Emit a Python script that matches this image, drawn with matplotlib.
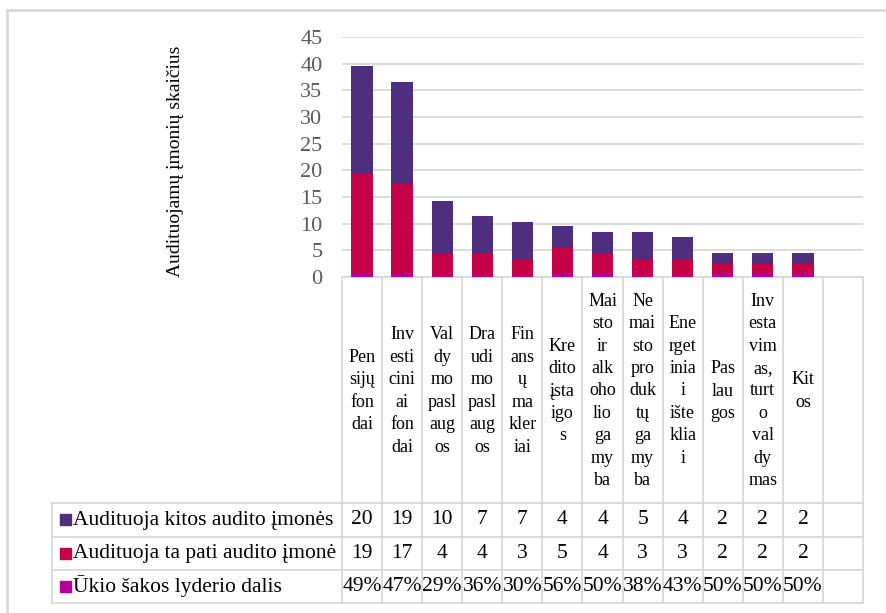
import numpy as np
import matplotlib
matplotlib.use('Agg')
import matplotlib.pyplot as plt
from matplotlib import transforms
from matplotlib.lines import Line2D
from matplotlib.patches import Rectangle

plt.rcParams['font.family'] = ['Liberation Serif', 'DejaVu Serif']

categories = [
    "Pen\nsijų\nfon\ndai",
    "Inv\nesti\ncini\nai\nfon\ndai",
    "Val\ndy\nmo\npasl\naug\nos",
    "Dra\nudi\nmo\npasl\naug\nos",
    "Fin\nans\nų\nma\nkler\niai",
    "Kre\ndito\nįsta\nigo\ns",
    "Mai\nsto\nir\nalk\noho\nlio\nga\nmy\nba",
    "Ne\nmai\nsto\npro\nduk\ntų\nga\nmy\nba",
    "Ene\nrget\ninia\ni\nište\nklia\ni",
    "Pas\nlau\ngos",
    "Inv\nesta\nvim\nas,\nturt\no\nval\ndy\nmas",
    "Kit\nos",
    "",
]
kitos = [20, 19, 10, 7, 7, 4, 4, 5, 4, 2, 2, 2]
ta_pati = [19, 17, 4, 4, 3, 5, 4, 3, 3, 2, 2, 2]
dalis = [0.49, 0.47, 0.29, 0.36, 0.30, 0.56, 0.50, 0.38, 0.43, 0.50, 0.50, 0.50]
series_names = ["Audituoja kitos audito įmonės",
                "Audituoja ta pati audito įmonė",
                "Ūkio šakos lyderio dalis"]
colors = ["#4F2D7F", "#C60047", "#B4009E"]
grid_c = "#D9D9D9"

W, H = 886, 613
fig = plt.figure(figsize=(W / 100, H / 100), dpi=100)


def fx(px):
    return px / W


def fy(py):
    return 1 - py / H


ax = fig.add_axes([fx(342), fy(277), fx(863) - fx(342), fy(37) - fy(277)])
n = len(kitos)
x = np.arange(n)
d = np.array(dalis)
t = np.array(ta_pati)
k = np.array(kitos)
ax.bar(x, d, width=0.53, color=colors[2], zorder=3)
ax.bar(x, t, bottom=d, width=0.53, color=colors[1], zorder=3)
ax.bar(x, k, bottom=d + t, width=0.53, color=colors[0], zorder=3)
ax.set_xlim(-0.5, len(categories) - 0.5)
ax.set_ylim(0, 45)
ax.set_yticks(range(0, 46, 5))
ax.yaxis.grid(True, color=grid_c, lw=1.3)
ax.set_axisbelow(True)
for s in ['top', 'right', 'left']:
    ax.spines[s].set_visible(False)
ax.spines['bottom'].set_color(grid_c)
ax.spines['bottom'].set_linewidth(1.3)
ax.set_xticks([])
ax.tick_params(axis='y', length=0, pad=14, labelsize=16, labelcolor='#595959')

fig.text(fx(176), fy(161), "Audituojamų įmonių skaičius", rotation=90,
         ha='center', va='center', fontsize=14)

# table under the chart
trans = transforms.blended_transform_factory(ax.transData, fig.transFigure)
lw = 1.3
for i in range(len(categories) + 1):
    xv = i - 0.5
    fig.add_artist(Line2D([xv, xv], [fy(277), fy(603)], transform=trans,
                          color=grid_c, lw=lw))
for yy in [503, 537, 570, 603]:
    fig.add_artist(Line2D([fx(52), fx(863)], [fy(yy), fy(yy)],
                          transform=fig.transFigure, color=grid_c, lw=lw))
fig.add_artist(Line2D([fx(52), fx(52)], [fy(503), fy(603)],
                      transform=fig.transFigure, color=grid_c, lw=lw))

for i, lab in enumerate(categories):
    if lab:
        fig.text(i, fy(391), lab, transform=trans, ha='center', va='center',
                 fontsize=13, linespacing=1.42)

rows = [[str(v) for v in kitos],
        [str(v) for v in ta_pati],
        ["{:.0f}%".format(v * 100) for v in dalis]]
row_y = [520, 553.5, 586.5]
for r, (name, col, vals) in enumerate(zip(series_names, colors, rows)):
    yc = row_y[r]
    fig.add_artist(Rectangle((fx(60), fy(yc + 5)), 11 / W, 11 / H,
                             transform=fig.transFigure, color=col))
    fig.text(fx(73), fy(yc), name, ha='left', va='center', fontsize=15.5)
    for i, v in enumerate(vals):
        fig.text(i, fy(yc), v, transform=trans, ha='center', va='center',
                 fontsize=15.5)

# outer chart frame (cropped)
fig.add_artist(Line2D([fx(7), fx(7)], [fy(10), fy(613)],
                      transform=fig.transFigure, color=grid_c, lw=2))
fig.add_artist(Line2D([fx(7), fx(886)], [fy(10), fy(10)],
                      transform=fig.transFigure, color=grid_c, lw=2))

fig.savefig("out.png", dpi=100)
